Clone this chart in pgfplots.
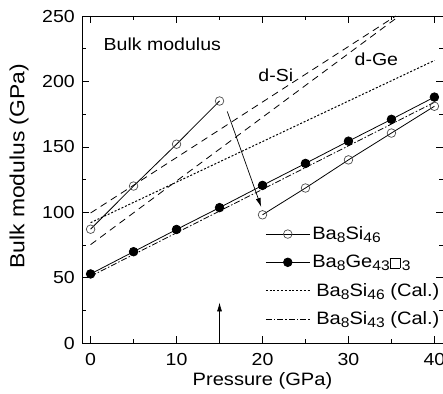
\documentclass[border=0pt]{standalone}
\usepackage{fontspec}
\setmainfont{Liberation Sans}[FakeStretch=1.12]
\usepackage{pgfplots}
\pgfplotsset{compat=1.18}
\usetikzlibrary{arrows.meta}
\newcommand{\sub}[1]{\raisebox{-3bp}{\fontsize{14}{14}\selectfont #1}}
\newcommand{\vac}{{\setlength{\fboxsep}{0pt}\setlength{\fboxrule}{0.6pt}\fbox{\rule{0pt}{9.5bp}\hspace{9.5bp}}}\kern1.5bp}

\pgfplotstableread{
x y
0 87
5 120
10 152
15 185
}\siA
\pgfplotstableread{
x y
20 98
25 118.5
30 140
35 160.5
40 181
}\siB
\pgfplotstableread{
x y
0 52.8
5 69.8
10 86.8
15 103.5
20 120.5
25 137.3
30 154.3
35 171
40 188
}\ge
\pgfplotstableread{
x y
0 92
40 216
}\calA
\pgfplotstableread{
x y
0 51
40 184
}\calB
\pgfplotstableread{
x y
0 99.4
35.5 250
}\dSi
\pgfplotstableread{
x y
0 75.2
35.9 250
}\dGe

\begin{document}
\begin{tikzpicture}
\begin{axis}[
  scale only axis, width=361bp, height=327bp,
  xmin=-1, xmax=41, ymin=0, ymax=250,
  xtick={0,10,20,30,40}, ytick={0,50,100,150,200,250},
  xticklabels={0,10,20,30,40}, yticklabels={0,50,100,150,200,250},
  minor x tick num=1, minor y tick num=1,
  tick align=inside, major tick length=7bp, minor tick length=4bp,
  tick style={black, line width=0.6pt},
  axis line style={line width=0.8pt},
  /pgf/number format/assume math mode=true,
  xticklabel style={font=\fontsize{17.5}{17.5}\selectfont, anchor=north, inner sep=0pt, yshift=-10bp},
  yticklabel style={font=\fontsize{17.5}{17.5}\selectfont, anchor=east, inner sep=0pt, xshift=-7bp},
  xlabel={Pressure (GPa)}, ylabel={Bulk modulus (GPa)},
  xlabel style={font=\fontsize{18}{18}\selectfont, at={(rel axis cs:0.5,0)}, anchor=base, yshift=-42bp},
  ylabel style={font=\fontsize{20.5}{20.5}\selectfont, at={(rel axis cs:0,0.54)}, anchor=center, yshift=63bp},
  clip=true,
  legend style={at={(axis cs:20.3,90.5)}, anchor=north west, draw=none, fill=none,
    font=\fontsize{18}{18}\selectfont, row sep=10bp, inner sep=0pt},
  legend cell align=left,
  legend image code/.code={\draw[mark repeat=2,mark phase=2,#1] plot coordinates {(0bp,0bp) (22bp,0bp) (44bp,0bp)};},
]
\addplot[black, line width=0.8pt, mark=o, mark size=4.3bp, mark options={draw=black!70, fill=white, line width=0.7pt}] table {\siA};
\addlegendentry{Ba\sub{8}Si\sub{46}}
\addplot[black, line width=0.8pt, mark=*, mark size=4.3bp, mark options={fill=black}] table {\ge};
\addlegendentry{Ba\sub{8}Ge\sub{43}\vac\sub{3}}
\addplot[black, line width=1pt, dash pattern=on 2bp off 1.8bp] table {\calA};
\addlegendentry{\hspace{4bp}Ba\sub{8}Si\sub{46} (Cal.)}
\addplot[black, line width=0.8pt, dash pattern=on 6bp off 2bp on 1.5bp off 2bp] table {\calB};
\addlegendentry{\hspace{4bp}Ba\sub{8}Si\sub{43} (Cal.)}
\addplot[black, line width=0.8pt, mark=o, mark size=4.3bp, mark options={draw=black!70, fill=white, line width=0.7pt}, forget plot] table {\siB};
\addplot[black, line width=0.8pt, dash pattern=on 7bp off 5bp, forget plot] table {\dSi};
\addplot[black, line width=0.8pt, dash pattern=on 7bp off 5bp, forget plot] table {\dGe};
\draw[line width=0.7pt, -{Latex[length=9bp,width=5bp]}] (axis cs:15.9,177) -- (axis cs:19.85,104);
\draw[line width=0.7pt, -{Latex[length=9bp,width=5bp]}] (axis cs:15,0) -- (axis cs:15,31);
\node[anchor=base west, font=\fontsize{17.5}{17.5}\selectfont, inner sep=0pt] at (axis cs:1.5,223.5) {Bulk modulus};
\node[anchor=base west, font=\fontsize{17.5}{17.5}\selectfont, inner sep=0pt] at (axis cs:19.5,200) {d-Si};
\node[anchor=base west, font=\fontsize{17.5}{17.5}\selectfont, inner sep=0pt] at (axis cs:30.7,212) {d-Ge};
\coordinate (ll) at (rel axis cs:0,0);
\coordinate (ur) at (rel axis cs:1,1);
\end{axis}
\pgfresetboundingbox
\path ([xshift=-82bp,yshift=-50bp]ll) rectangle ([yshift=16bp]ur);
\end{tikzpicture}
\end{document}
